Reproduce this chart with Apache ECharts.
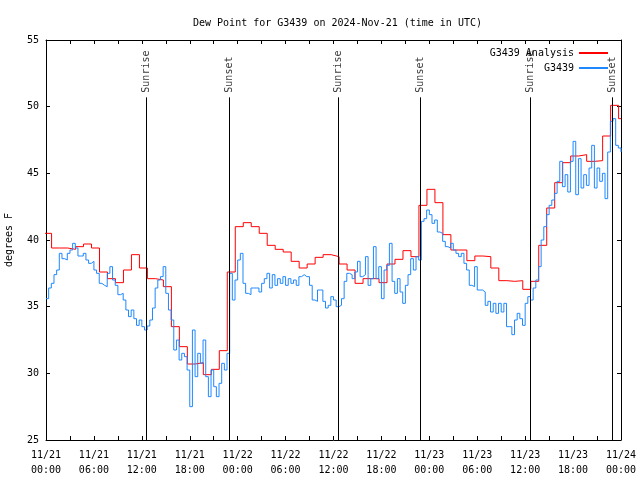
<!DOCTYPE html>
<html><head><meta charset="utf-8">
<script src="https://cdn.jsdelivr.net/npm/echarts@6/dist/echarts.min.js"></script>
<style>html,body{margin:0;padding:0;background:#fff}#c{width:640px;height:480px}</style>
</head><body><div id="c"></div>
<script>
const chartTitle = 'Dew Point for G3439 on 2024-Nov-21 (time in UTC)';
const yAxisName = 'degrees F';
const month = 11;
const startDay = 21;
const totalHours = 72;
const yMin = 25, yMax = 55, yStep = 5;
const analysisName = 'G3439 Analysis';
const stationName = 'G3439';

// Hourly analysis values (hours 0..72); each holds from ~20 min before the hour to ~40 min after.
const analysisValues = [
  40.5, 39.4, 39.4, 39.3, 39.5, 39.7, 39.4, 37.6, 37.1, 36.8, 37.75, 38.9,
  37.9, 37.1, 37.0, 36.5, 33.5, 32.0, 30.7, 30.8, 29.9, 30.3, 31.7, 37.6,
  41.0, 41.3, 41.0, 40.5, 39.6, 39.3, 39.1, 38.4, 37.9, 38.2, 38.7, 38.9,
  38.75, 38.2, 37.75, 36.75, 37.1, 37.1, 36.8, 38.2, 38.55, 39.2, 38.75, 42.6,
  43.8, 42.8, 40.4, 39.25, 39.25, 38.45, 38.8, 38.75, 37.9, 36.95, 36.9, 36.95,
  36.3, 36.9, 39.6, 42.4, 44.3, 45.8, 46.3, 46.4, 45.9, 45.95, 47.8, 50.1, 49.1
];
const analysisShiftHours = -0.3;

// Station observations every 20 minutes from 11/21 00:00
const stationStepHours = 1 / 3;
const stationValues = [
  35.6, 36.4, 36.75,  37.4, 37.75, 39.0,  38.6, 38.5, 39.0,  39.25, 39.75, 39.4,
  38.8, 38.8, 39.0,   38.5, 38.25, 38.4,  37.75, 37.5, 36.75, 36.6, 36.5, 37.5,
  38.0, 37.0, 36.6,   35.9, 36.0, 35.5,   34.75, 34.25, 34.75, 34.1, 33.6, 34.0,
  33.5, 33.25, 33.55, 34.0, 34.9, 36.4,   37.0, 37.25, 38.0,  36.0, 34.75, 34.0,
  31.75, 32.5, 31.0,  31.5, 31.25, 30.25, 27.5, 33.25, 29.75, 31.5, 30.75, 32.5,
  29.75, 28.25, 30.25, 29.0, 28.25, 29.25, 30.75, 30.25, 31.5, 37.5, 35.5, 37.0,
  38.5, 39.0, 36.75,  36.0, 35.9, 36.4,   36.4, 36.4, 36.1,   36.75, 37.1, 37.5,
  36.4, 37.4, 36.6,   37.1, 36.75, 37.25, 36.6, 37.1, 36.75,  37.0, 36.6, 37.25,
  37.4, 37.25, 37.25, 36.6, 35.5, 35.4,   36.25, 36.25, 35.4, 34.9, 35.1, 35.75,
  35.5, 35.0, 35.1,   35.6, 36.9, 37.5,   37.4, 37.1, 37.6,   38.4, 37.25, 37.4,
  38.75, 36.6, 37.1,  39.5, 37.1, 38.0,   35.6, 37.75, 38.1,  39.75, 36.9, 36.0,
  37.1, 36.1, 35.25,  36.6, 37.4, 38.6,   37.75, 38.75, 38.5, 41.4, 41.6, 42.25,
  41.9, 41.25, 41.5,  40.6, 40.5, 39.9,   39.5, 39.4, 39.75,  39.25, 39.0, 38.75,
  39.0, 38.25, 37.75, 36.6, 36.5, 38.0,   36.25, 36.25, 36.1, 35.1, 35.4, 34.6,
  35.25, 34.5, 35.25, 34.6, 35.25, 33.5,  33.5, 32.9, 34.0,   34.5, 34.1, 33.6,
  35.25, 35.75, 35.5, 36.4, 37.0, 38.0,   40.0, 41.0, 41.9,   42.6, 43.0, 43.5,
  44.4, 45.9, 44.0,   44.9, 43.6, 45.9,   47.4, 43.4, 46.1,   43.9, 44.9, 44.1,
  45.4, 47.1, 43.9,   45.4, 44.4, 45.0,   43.1, 46.6, 48.9,   49.1, 47.1, 46.9,
  46.6
];

const sunNames = ['Sunrise', 'Sunset', 'Sunrise', 'Sunset', 'Sunrise', 'Sunset'];
const sunHours = [12.57, 22.92, 36.57, 46.87, 60.62, 70.87];
const sunLineTop = 50.7;
const sunLabelAt = 51.05;

const FONT = 'DejaVu Sans Mono';
const pad2 = n => (n < 10 ? '0' : '') + n;
function xLabel(v) {
  if (v % 6 !== 0) return '';
  const day = startDay + Math.floor(v / 24);
  return month + '/' + day + '\n' + pad2(v % 24) + ':00';
}

const analysisData = analysisValues.map((v, i) => [i + analysisShiftHours, v]);
analysisData.push([totalHours, analysisValues[analysisValues.length - 1]]);
const stationData = stationValues.map((v, i) => [i * stationStepHours, v]);

const axisCommon = {
  axisLine: { show: true, onZero: false, lineStyle: { color: '#000', width: 1 } },
  axisTick: { show: true, inside: true, length: 4, lineStyle: { color: '#000' } },
  splitLine: { show: false }
};

const chart = echarts.init(document.getElementById('c'), null, { renderer: 'canvas' });
chart.setOption({
  animation: false,
  backgroundColor: '#fff',
  title: {
    text: chartTitle, left: 188, top: 13,
    textStyle: { fontFamily: FONT, fontSize: 10, fontWeight: 'normal', color: '#000' }
  },
  legend: {
    data: [analysisName, stationName],
    orient: 'vertical', right: 27, top: 42, align: 'right',
    icon: 'rect', itemWidth: 29, itemHeight: 2, itemGap: 3,
    textStyle: { fontFamily: FONT, fontSize: 10, color: '#000', lineHeight: 12 }
  },
  grid: { left: 46, right: 19, top: 40, bottom: 40, containLabel: false, outerBoundsMode: 'none' },
  xAxis: [
    Object.assign({}, axisCommon, {
      type: 'value', min: 0, max: totalHours, interval: 3, position: 'bottom',
      axisLabel: { formatter: xLabel, fontFamily: FONT, fontSize: 10, color: '#000', lineHeight: 15, margin: 8, showMinLabel: true, showMaxLabel: true, hideOverlap: false }
    }),
    Object.assign({}, axisCommon, {
      type: 'value', min: 0, max: totalHours, interval: 3, position: 'top',
      axisLabel: { show: false }
    })
  ],
  yAxis: [
    Object.assign({}, axisCommon, {
      type: 'value', min: yMin, max: yMax, interval: yStep, position: 'left',
      name: yAxisName, nameLocation: 'middle', nameGap: 32,
      nameTextStyle: { fontFamily: FONT, fontSize: 10, color: '#000' },
      axisLabel: { fontFamily: FONT, fontSize: 10, color: '#000', margin: 7 }
    }),
    Object.assign({}, axisCommon, {
      type: 'value', min: yMin, max: yMax, interval: yStep, position: 'right',
      axisLabel: { show: false }
    })
  ],
  series: [
    {
      name: analysisName, type: 'line', step: 'end', data: analysisData,
      showSymbol: false, symbol: 'none', color: '#ff0000',
      lineStyle: { color: '#ff0000', width: 1 }, z: 2
    },
    {
      name: stationName, type: 'line', step: 'end', data: stationData,
      showSymbol: false, symbol: 'none', color: '#1e88ff',
      lineStyle: { color: '#1e88ff', width: 1 }, z: 3
    },
    {
      name: 'sun', type: 'scatter', symbolSize: 0, z: 4, silent: true,
      data: sunHours.map((h, i) => ({ value: [h, sunLabelAt], name: sunNames[i] })),
      label: {
        show: true, position: 'inside', rotate: 90, align: 'left', verticalAlign: 'middle',
        formatter: p => p.name, fontFamily: FONT, fontSize: 10, color: '#000'
      },
      markLine: {
        silent: true, symbol: ['none', 'none'], animation: false,
        lineStyle: { color: '#000', width: 1, type: 'solid' },
        label: { show: false },
        data: sunHours.map(h => [{ coord: [h, yMin] }, { coord: [h, sunLineTop] }])
      }
    }
  ]
});
</script>
</body></html>
